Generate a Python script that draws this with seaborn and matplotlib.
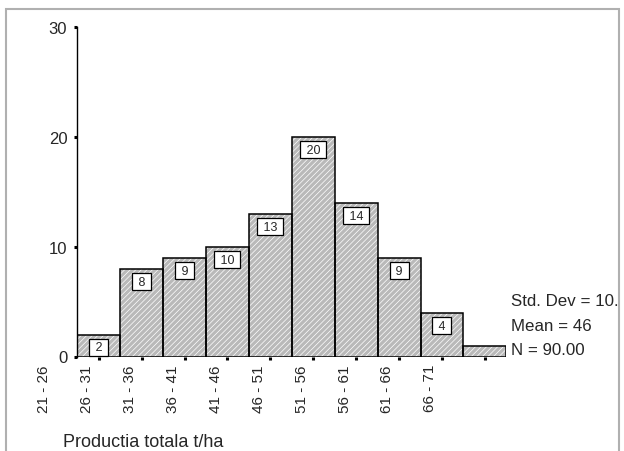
import pandas as pd
import numpy as np
import matplotlib
matplotlib.use("Agg")
import matplotlib.pyplot as plt
import matplotlib.transforms as mtransforms
from matplotlib.patches import Rectangle
import seaborn as sns

# histogram data (SPSS style output)
bins = ["21 - 26", "26 - 31", "31 - 36", "36 - 41", "41 - 46",
        "46 - 51", "51 - 56", "56 - 61", "61 - 66", "66 - 71"]
counts = [2, 8, 9, 10, 13, 20, 14, 9, 4, 1]
stats = ["Std. Dev = 10.", "Mean = 46", "N = 90.00"]
y_ticks = [0, 10, 20, 30]
x_title = "Productia totala t/ha"

df = pd.DataFrame({"bin": bins, "count": counts})

sns.set_style("white")
plt.rcParams["font.family"] = ["Liberation Sans", "DejaVu Sans"]
plt.rcParams["hatch.linewidth"] = 0.5

fig = plt.figure(figsize=(6.24, 4.52), dpi=100)
ax = fig.add_axes([77.3 / 624, 1 - 357.5 / 452, 429 / 624, 329.2 / 452])

# hatched fill
sns.barplot(data=df, x="bin", y="count", color="#b9b9b9", saturation=1,
            width=1, ax=ax)
bars = list(ax.patches)
for p in bars:
    p.set_edgecolor("white")
    p.set_linewidth(0)
    p.set_hatch("//////")

# black outlines on top
sns.barplot(data=df, x="bin", y="count", color="black", fill=False,
            width=1, linewidth=1.1, ax=ax)
for p in ax.patches[len(bars):]:
    p.set_facecolor("none")
    p.set_edgecolor("black")

# value boxes
for p, v in zip(bars, counts):
    if v < 2:
        continue
    ax.annotate(f" {v} ", (p.get_x() + p.get_width() / 2, v),
                xytext=(0, -5.0), textcoords="offset points",
                ha="center", va="top", fontsize=9,
                bbox=dict(boxstyle="square,pad=0.2", fc="white",
                          ec="black", lw=0.9))

ax.set_ylim(0, 30)
ax.set_yticks(y_ticks)
ax.tick_params(axis="y", left=True, direction="out", length=2.2, width=2.2,
               pad=5.0, labelsize=12, color="black")
ax.set_xticks(range(len(bins)))
ax.set_xticklabels([])
ax.tick_params(axis="x", bottom=True, direction="out", length=2.2,
               width=2.2, color="black")
ax.set_xlabel("")
ax.set_ylabel("")
for s in ["top", "right", "bottom"]:
    ax.spines[s].set_visible(False)
ax.spines["left"].set_color("black")
ax.spines["left"].set_linewidth(1.0)

# bin labels (shifted like the original output)
trans = mtransforms.blended_transform_factory(ax.transData, ax.transAxes)
for i, lab in enumerate(bins):
    ax.text(i - 1 - 0.27, -0.023, lab, rotation=90, ha="center", va="top",
            fontsize=11, transform=trans, clip_on=False)

# stats box
for s, yb in zip(stats, [0.156, 0.081, 0.0076]):
    ax.text(1.0117, yb, s, transform=ax.transAxes, fontsize=12.2,
            va="baseline", ha="left", clip_on=False)

fig.text(63 / 624, 1 - 447 / 452, x_title, fontsize=13,
         va="baseline", ha="left")

fig.add_artist(Rectangle((6 / 624, -0.05), (619 - 6) / 624,
                         1.05 - 9.5 / 452, transform=fig.transFigure,
                         fill=False, ec="#b0b0b0", lw=1.5))

fig.savefig("out.png", dpi=100)
